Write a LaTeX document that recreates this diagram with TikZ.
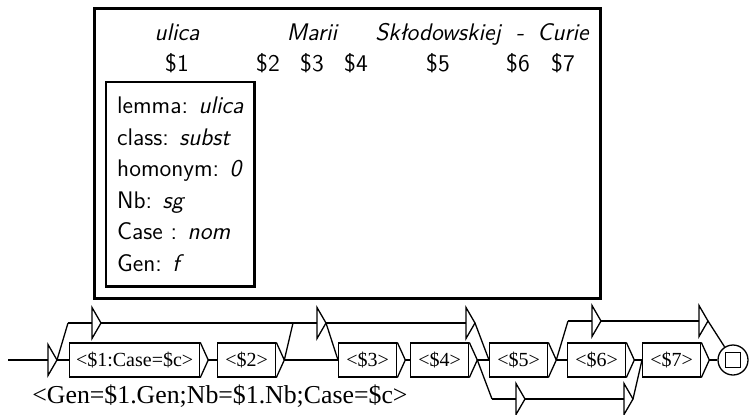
\documentclass[tikz,border=0pt]{standalone}
\usepackage{fontspec}
\usepackage{tikz}
\usetikzlibrary{positioning,calc}
\newfontfamily\graphfont{Liberation Serif}

\begin{document}
\begin{tikzpicture}[
    x=0.5pt, y=-0.5pt,
    % khung ngoai va hop thuoc tinh
    frame/.style={draw=black, line width=1.5pt},
    word/.style={anchor=base, font=\sffamily\itshape\fontsize{12}{14}\selectfont},
    var/.style={anchor=base, font=\sffamily\fontsize{12}{14}\selectfont},
    attrbox/.style={
        draw, line width=1.2pt,
        anchor=north west, align=left,
        inner xsep=5.5pt, inner ysep=7.5pt,
        font=\sffamily\fontsize{12}{15.75}\selectfont
    },
    % do thi Unitex
    link/.style={line width=0.65pt},
    ubox/.style={
        draw, link, anchor=west,
        minimum height=17pt, minimum width=29pt,
        inner xsep=3.2pt, inner ysep=0pt,
        font=\graphfont\fontsize{10}{11}\selectfont
    },
    output/.style={anchor=base west, inner sep=0pt, font=\graphfont\fontsize{12.9}{14}\selectfont},
    final/.style={draw, link, circle, minimum size=15pt, inner sep=0pt}
    ]
    \useasboundingbox (0,0) rectangle (749,414);

    % Khung phia tren: cac tu va bien
    \draw[frame] (94,8) rectangle (600,298);
    \node[word] (ulica) at (177,40) {ulica};
    \node[word] (marii) at (312,40) {Marii};
    \node[word] (sklod) at (438,40) {Skłodowskiej};
    \node[word] (dash)  at (520,40) {-};
    \node[word] (curie) at (563,40) {Curie};
    \foreach \i/\x in {1/177, 2/268, 3/312, 4/356, 5/438, 6/518, 7/563}
        \node[var] (v\i) at (\x,71) {\$\i};

    \node[attrbox] (attrs) at (105,81) {lemma: \textit{ulica}\\
        class: \textit{subst}\\
        homonym: \textit{0}\\
        Nb: \textit{sg}\\
        Case : \textit{nom}\\
        Gen: \textit{f}};

    % Cac hop co nhan
    \node[ubox] (b1) at (69,360)  {<\$1:Case=\$c>};
    \node[ubox] (b2) at (217,360) {<\$2>};
    \node[ubox] (b3) at (338,360) {<\$3>};
    \node[ubox] (b4) at (410,360) {<\$4>};
    \node[ubox] (b5) at (489,360) {<\$5>};
    \node[ubox] (b6) at (567,360) {<\$6>};
    \node[ubox] (b7) at (642,360) {<\$7>};
    \foreach \b in {b1,b2,b3,b4,b5,b6,b7}
        \draw[link] (\b.north east) -- ($(\b.east)+(4pt,0)$) coordinate (\b-out) -- (\b.south east);

    \node[output] (out) at (32,403) {<Gen=\$1.Gen;Nb=\$1.Nb;Case=\$c>};

    % Hop rong (tam giac) va trang thai dau
    \foreach \n/\x/\y/\lead in {s/48/360/40, e1/92/323/24, e2/317/323/24, e3/466/323/24,
                                e4/516/399/24, e5/624/399/24, e6/592/321/24, e7/699/321/24} {
        \coordinate (\n-in) at (\x-\lead,\y);
        \draw[link] (\n-in) -- (\x,\y);
        \draw[link] (\x,\y-15.5) -- (\x+9,\y) coordinate (\n-out) -- (\x,\y+15.5) -- cycle;
    }

    % Trang thai cuoi
    \node[final] (fin) at (733,360) {};
    \draw[link] ($(fin.center)+(-3.75pt,-3.75pt)$) rectangle ($(fin.center)+(3.75pt,3.75pt)$);

    % Cac chuyen
    \draw[link] (s-out) -- (b1.west);
    \draw[link] (s-out) -- (e1-in);
    \draw[link] (b1-out) -- (b2.west);
    \draw[link] (e1-out) -- (e2-in);
    \draw[link] (b2-out) -- (e2-in);
    \draw[link] (b2-out) -- (b3.west);
    \draw[link] (e2-out) -- (b3.west);
    \draw[link] (e2-out) -- (e3-in);
    \draw[link] (b3-out) -- (b4.west);
    \draw[link] (b4-out) -- (b5.west);
    \draw[link] (e3-out) -- (b5.west);
    \draw[link] (b4-out) -- (e4-in);
    \draw[link] (e4-out) -- (e5-in);
    \draw[link] (b5-out) -- (b6.west);
    \draw[link] (b5-out) -- (e6-in);
    \draw[link] (e6-out) -- (e7-in);
    \draw[link] (b6-out) -- (b7.west);
    \draw[link] (e5-out) -- (b7.west);
    \draw[link] (b7-out) -- (fin);
    \draw[link] (e7-out) -- (fin);
\end{tikzpicture}
\end{document}
